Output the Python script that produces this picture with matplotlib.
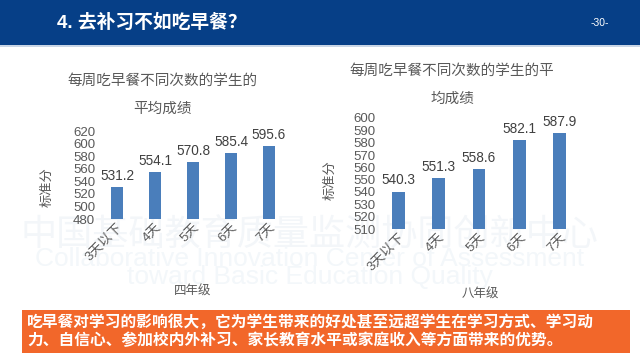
import matplotlib
matplotlib.use('Agg')
from matplotlib import pyplot as plt
from matplotlib.patches import Rectangle

plt.rcParams['font.family'] = ['Liberation Sans', 'Noto Sans CJK SC', 'DejaVu Sans']

# datos
dias = ['3天以下', '4天', '5天', '6天', '7天']
notas_4 = [531.2, 554.1, 570.8, 585.4, 595.6]
notas_8 = [540.3, 551.3, 558.6, 582.1, 587.9]
ticks_4 = [480, 500, 520, 540, 560, 580, 600, 620]
ticks_8 = [510, 520, 530, 540, 550, 560, 570, 580, 590, 600]

W, H = 640, 359
AZUL = '#4a7ebb'
GRIS = '#595959'

fig = plt.figure(figsize=(6.4, 3.59), dpi=100)
fig.patch.set_facecolor('white')

def caja(x0, y0, x1, y1):
    # pixeles (origen arriba-izquierda) -> coords de figura
    return [x0 / W, 1 - y1 / H, (x1 - x0) / W, (y1 - y0) / H]

# cabecera
fig.patches.append(Rectangle((0, 1 - 45 / H), 1, 45 / H, transform=fig.transFigure,
                             facecolor='#063f87', edgecolor='none', zorder=0))
fig.patches.append(Rectangle((0, 1 - 47 / H), 1, 2 / H, transform=fig.transFigure,
                             facecolor='#c9d6e6', edgecolor='none', zorder=0))
fig.text(57 / W, 1 - 23 / H, '4. 去补习不如吃早餐？', color='white', fontsize=13.5,
         fontweight='bold', va='center', ha='left')
fig.text(600 / W, 1 - 23 / H, '-30-', color='white', fontsize=7.5, va='center', ha='center')

# marca de agua (muy tenue)
fig.text(310 / W, 1 - 236 / H, '中国基础教育质量监测协同创新中心', color='#f3f6f9', fontsize=26,
         ha='center', va='center', zorder=-1)
fig.text(310 / W, 1 - 259 / H, 'Collaborative Innovation Center of Assessment', color='#f3f7fa',
         fontsize=19, ha='center', va='center', zorder=-1)
fig.text(310 / W, 1 - 277 / H, 'toward Basic Education Quality', color='#f3f7fa',
         fontsize=19, ha='center', va='center', zorder=-1)

def grafico(pos, valores, ticks, titulo, nivel, tit_pos, xlab_pos, ylab_pos):
    ax = fig.add_axes(pos)
    ax.set_zorder(2)
    ax.patch.set_alpha(0)
    x = range(len(dias))
    barras = ax.bar(x, valores, width=0.32, color=AZUL, zorder=3)
    ax.bar_label(barras, labels=[f'{v:.1f}' for v in valores], padding=3,
                 fontsize=9.8, color='#404040')
    ax.set_xlim(-0.5, len(dias) - 0.5)
    ax.set_ylim(ticks[0], ticks[-1])
    ax.set_yticks(ticks)
    ax.set_yticklabels([str(t) for t in ticks], fontsize=9.5, color=GRIS)
    ax.set_xticks(list(x))
    ax.set_xticklabels(dias, rotation=45, ha='right', rotation_mode='anchor',
                       fontsize=9.5, color=GRIS)
    ax.tick_params(length=0, pad=2)
    for s in ax.spines.values():
        s.set_visible(False)
    fig.text(tit_pos[0] / W, 1 - tit_pos[1] / H, titulo, fontsize=10.5, color=GRIS,
             ha='center', va='center', linespacing=2.25)
    fig.text(xlab_pos[0] / W, 1 - xlab_pos[1] / H, nivel, fontsize=9, color=GRIS,
             ha='center', va='center')
    fig.text(ylab_pos[0] / W, 1 - ylab_pos[1] / H, '标准分', fontsize=9.5, color=GRIS,
             ha='center', va='center', rotation=90)
    return ax

grafico(caja(98, 131, 288, 219), notas_4, ticks_4, '每周吃早餐不同次数的学生的\n平均成绩',
        '四年级', (162, 95), (193, 292), (47, 187))
grafico(caja(378, 118, 580, 229), notas_8, ticks_8, '每周吃早餐不同次数的学生的平\n均成绩',
        '八年级', (452, 85), (480, 295), (330, 180))

# recuadro naranja
fig.patches.append(Rectangle((22 / W, 1 - 353 / H), (630 - 22) / W, (353 - 310) / H,
                             transform=fig.transFigure, facecolor='#f2672a',
                             edgecolor='none', zorder=1))
fig.text(27 / W, 1 - 322 / H, '吃早餐对学习的影响很大，它为学生带来的好处甚至远超学生在学习方式、学习动',
         color='white', fontsize=11.3, fontweight='bold', va='center', ha='left')
fig.text(27 / W, 1 - 340 / H, '力、自信心、参加校内外补习、家长教育水平或家庭收入等方面带来的优势。',
         color='white', fontsize=11.3, fontweight='bold', va='center', ha='left')

fig.savefig('out.png', dpi=100)
